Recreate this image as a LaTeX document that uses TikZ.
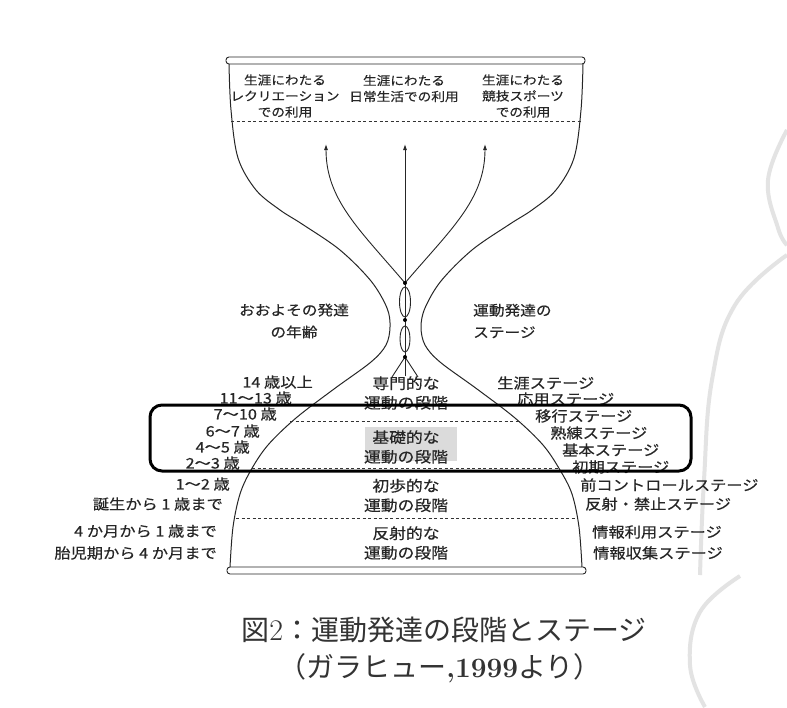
\documentclass[tikz,border=0pt]{standalone}
\usepackage{fontspec}
\newfontfamily\jp[FakeStretch=1.12, FakeBold=0.4]{Noto Sans CJK JP}
\newfontfamily\jpc{Noto Sans CJK JP}
\usetikzlibrary{arrows.meta}
\begin{document}
\begin{tikzpicture}[x=1pt,y=-1pt,
  wall/.style={line width=1pt, black!85},
  dline/.style={line width=0.9pt, black!80, dash pattern=on 3pt off 2.5pt},
  rim/.style={line width=0.9pt, black!85, rounded corners=3pt},
  arr/.style={line width=0.9pt, black!85, -{Latex[length=6pt,width=4pt]}},
  toplbl/.style={font=\jp\fontsize{12.2}{16}\selectfont, align=center, inner sep=0pt, text=black!85},
  sidelbl/.style={font=\jp\fontsize{14.5}{16}\selectfont, inner sep=0pt, text=black!85},
  neck/.style={font=\jp\fontsize{14}{22}\selectfont, inner sep=0pt, text=black!85},
  phase/.style={font=\jp\fontsize{15}{19.5}\selectfont, align=center, inner sep=0pt, text=black!85},
  caption/.style={font=\jpc\fontsize{28}{30}\selectfont, inner sep=0pt, text=black!80},
  hilite/.style={line width=3pt, black, rounded corners=12pt}
]
\useasboundingbox (0,0) rectangle (787,707);
\fill[white] (0,0) rectangle (787,707);

% faint page-curl artefacts of the scan
\draw[gray!22, line width=4pt] plot[smooth, tension=0.7] coordinates
  {(787,130) (768,180) (778,228) (787,245)};
\draw[gray!22, line width=4pt] plot[smooth, tension=0.7] coordinates
  {(787,255) (735,305) (712,380) (704,480) (700,575)};
\draw[gray!22, line width=4pt] plot[smooth, tension=0.7] coordinates
  {(740,576) (700,612) (690,665) (705,707)};

% rims
\draw[rim] (226,57) rectangle (585,64);
\draw[rim] (227,567) rectangle (586,574);

% hourglass outline
\draw[wall] plot[smooth, tension=0.55] coordinates
  {(229,64) (231,110) (238,158) (256,190) (280,210) (302,224) (340,250)
   (371,281) (387,308) (390,327) (386,345) (371,362) (334,389) (296,418)
   (268,445) (251,470) (240,494) (233,527) (230,567)};
\draw[wall] plot[smooth, tension=0.55] coordinates
  {(583,64) (581,110) (574,158) (556,190) (532,210) (510,224) (472,250)
   (441,281) (425,308) (421,327) (425,345) (440,362) (477,389) (515,418)
   (543,445) (560,470) (572,494) (579,527) (582,567)};

% dashed division lines
\draw[dline] (231,121) -- (581,121);
\draw[dline] (290,421) -- (521,421);
\draw[dline] (252,468) -- (558,468);
\draw[dline] (236,518) -- (576,518);

% neck: stem, ellipses and arrows
\coordinate (s0) at (405,376);
\coordinate (d3) at (405,357);
\coordinate (d2) at (405,320);
\coordinate (d1) at (405,283);
\coordinate (tl) at (326,144);
\coordinate (tc) at (405,144);
\coordinate (tr) at (485,144);
\coordinate (fl) at (392,377);
\coordinate (fr) at (418,377);
\draw[line width=0.9pt, black!85] (d3) -- (fl);
\draw[line width=0.9pt, black!85] (d3) -- (fr);
\draw[line width=0.9pt, black!85] (405,302) ellipse (5.5pt and 15pt);
\draw[line width=0.9pt, black!85] (405,339) ellipse (5pt and 13pt);
\draw[arr] (s0) -- (tc);
\draw[arr] (d1) .. controls (360,230) and (326,200) .. (tl);
\draw[arr] (d1) .. controls (450,230) and (485,200) .. (tr);
\foreach \d in {d1,d2,d3} \fill[black] (\d) circle (2pt);

% top labels
\node[toplbl] (u1) at (285,96) {生涯にわたる\\レクリエーション\\での利用};
\node[toplbl] (u2) at (404,88.5) {生涯にわたる\\日常生活での利用};
\node[toplbl] (u3) at (523,96) {生涯にわたる\\競技スポーツ\\での利用};

% neck labels
\node[neck, align=center] (ages) at (294,321) {おおよその発達\\の年齢};
\node[neck, align=left, anchor=west] (stg) at (473,321) {運動発達の\\ステージ};

% phase labels
\fill[gray!28] (365,427) rectangle (457,461);
\node[phase] (p1) at (406,393) {専門的な\\運動の段階};
\node[phase] (p2) at (406,447) {基礎的な\\運動の段階};
\node[phase] (p3) at (406,495.5) {初歩的な\\運動の段階};
\node[phase] (p4) at (406,543) {反射的な\\運動の段階};

% ages (left)
\node[sidelbl, anchor=east] (a1) at (313,382) {14 歳以上};
\node[sidelbl, anchor=east] (a2) at (292,398) {11〜13 歳};
\node[sidelbl, anchor=east] (a3) at (277,414) {7〜10 歳};
\node[sidelbl, anchor=east] (a4) at (260,431) {6〜7 歳};
\node[sidelbl, anchor=east] (a5) at (250,447) {4〜5 歳};
\node[sidelbl, anchor=east] (a6) at (240,463) {2〜3 歳};
\node[sidelbl, anchor=east] (a7) at (230,484) {1〜2 歳};
\node[sidelbl, anchor=east] (a8) at (223,504) {誕生から 1 歳まで};
\node[sidelbl, anchor=east] (a9) at (217,531) {4 か月から 1 歳まで};
\node[sidelbl, anchor=east] (a10) at (217,553) {胎児期から 4 か月まで};

% stages (right)
\node[sidelbl, anchor=west] (b1) at (497,383) {生涯ステージ};
\node[sidelbl, anchor=west] (b2) at (517,399) {応用ステージ};
\node[sidelbl, anchor=west] (b3) at (535,416) {移行ステージ};
\node[sidelbl, anchor=west] (b4) at (550,433) {熟練ステージ};
\node[sidelbl, anchor=west] (b5) at (562,450) {基本ステージ};
\node[sidelbl, anchor=west] (b6) at (572,467) {初期ステージ};
\node[sidelbl, anchor=west] (b7) at (580,485) {前コントロールステージ};
\node[sidelbl, anchor=west] (b8) at (585,504) {反射・禁止ステージ};
\node[sidelbl, anchor=west] (b9) at (592,532) {情報利用ステージ};
\node[sidelbl, anchor=west] (b10) at (593,553) {情報収集ステージ};

% highlight frame
\draw[hilite] (150,405) rectangle (691,471);

% caption
\node[caption] (c1) at (444,630) {図{\rmfamily\fontsize{30}{30}\selectfont 2}：運動発達の段階とステージ};
\node[caption] (c2) at (440,668) {（ガラヒュー{\rmfamily\bfseries ,1999}より）};
\end{tikzpicture}
\end{document}
